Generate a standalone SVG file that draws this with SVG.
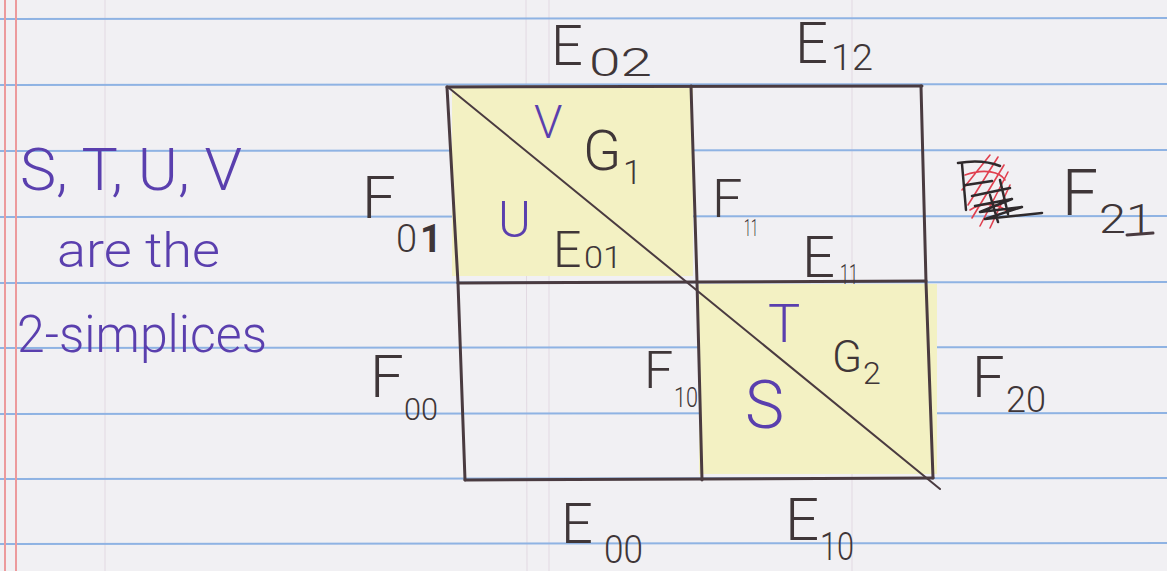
<svg xmlns="http://www.w3.org/2000/svg" width="1167" height="571" viewBox="0 0 1167 571">
<style>
.rule{stroke:#8fb3e3;stroke-width:2}
.margin{stroke:#ec9a9c;stroke-width:2}
.faint{stroke:#e2d9e2;stroke-width:1}
.hl{fill:#f3f1c3}
.pen{fill:none;stroke:#4a3b40;stroke-width:3;stroke-linecap:round;stroke-linejoin:round}
.diag{fill:none;stroke:#4a3b40;stroke-width:2;stroke-linecap:round}
.lbl{font-family:Roboto,"Open Sans","Liberation Sans",sans-serif;font-weight:300;fill:#3f3638}
.pur{font-family:Roboto,"Open Sans","Liberation Sans",sans-serif;font-weight:300;fill:#5a3fae}
.scr{fill:none;stroke:#2f2a2c;stroke-width:2.5;stroke-linecap:round;stroke-linejoin:round}
.scr-red{fill:none;stroke:#e0404f;stroke-width:1.6;stroke-linecap:round;stroke-linejoin:round}
</style>
<rect x="0" y="0" width="1167" height="571" fill="#f1f0f3"/>
<g id="paper">
<line class="faint" x1="105" y1="0" x2="105" y2="571"/>
<line class="faint" x1="526" y1="0" x2="527" y2="571"/>
<line class="faint" x1="549" y1="0" x2="549" y2="571"/>
<line class="faint" x1="852" y1="0" x2="852" y2="571"/>
<line class="rule" x1="0" y1="19" x2="1167" y2="18"/>
<line class="rule" x1="0" y1="85" x2="1167" y2="84"/>
<line class="rule" x1="0" y1="151" x2="1167" y2="150"/>
<line class="rule" x1="0" y1="217" x2="1167" y2="216"/>
<line class="rule" x1="0" y1="283" x2="1167" y2="282"/>
<line class="rule" x1="0" y1="348" x2="1167" y2="347"/>
<line class="rule" x1="0" y1="414" x2="1167" y2="413"/>
<line class="rule" x1="0" y1="479" x2="1167" y2="478"/>
<line class="rule" x1="0" y1="544" x2="1167" y2="543"/>
<line class="margin" x1="5" y1="0" x2="5" y2="571"/>
<line class="margin" x1="16" y1="0" x2="16" y2="571"/>
</g>
<g id="highlights">
<rect class="hl" x="452" y="88" width="241" height="188"/>
<rect class="hl" x="699" y="284" width="238" height="190"/>
</g>
<g id="grid">
<polyline class="pen" points="447,87 922,86"/>
<polyline class="pen" points="458,283 697,282 926,281"/>
<polyline class="pen" points="465,480 702,479 933,478"/>
<polyline class="pen" points="447,87 458,283 465,480"/>
<polyline class="pen" points="691,86 697,282 702,480"/>
<polyline class="pen" points="921,86 926,282 933,478"/>
</g>
<g id="connectors">
<line class="diag" x1="449" y1="88" x2="940" y2="489"/>
</g>
<g id="note">
<text class="pur" x="20" y="190" font-size="60" textLength="222" lengthAdjust="spacingAndGlyphs">S, T, U, V</text>
<text class="pur" x="57" y="267" font-size="48" textLength="163" lengthAdjust="spacingAndGlyphs">are the</text>
<text class="pur" x="17" y="352" font-size="52" textLength="250" lengthAdjust="spacingAndGlyphs">2-simplices</text>
</g>
<g id="simplex-V"><text class="pur" x="534" y="138" font-size="46">V</text></g>
<g id="simplex-U"><text class="pur" x="498" y="237" font-size="50">U</text></g>
<g id="simplex-T"><text class="pur" x="768" y="342" font-size="54">T</text></g>
<g id="simplex-S"><text class="pur" x="745" y="428" font-size="66">S</text></g>
<g id="label-E02"><text class="lbl" x="551" y="65" font-size="56">E</text><text class="lbl" x="589" y="76" font-size="38" textLength="63" lengthAdjust="spacingAndGlyphs">02</text></g>
<g id="label-E12"><text class="lbl" x="795" y="63" font-size="58">E</text><text class="lbl" x="831" y="70" font-size="36" textLength="42" lengthAdjust="spacingAndGlyphs">12</text></g>
<g id="label-G1"><text class="lbl" x="583" y="170" font-size="56">G</text><text class="lbl" x="623" y="184" font-size="34">1</text></g>
<g id="label-F01"><text class="lbl" x="362" y="218" font-size="60">F</text><text class="lbl" x="396" y="252" font-size="38">0<tspan font-weight="700" dx="3">1</tspan></text></g>
<g id="label-E01"><text class="lbl" x="553" y="267" font-size="50">E</text><text class="lbl" x="584" y="268" font-size="32" textLength="38" lengthAdjust="spacingAndGlyphs">01</text></g>
<g id="label-F11"><text class="lbl" x="712" y="217" font-size="54">F</text><text class="lbl" x="744" y="236" font-size="24" textLength="14" lengthAdjust="spacingAndGlyphs">11</text></g>
<g id="label-E11"><text class="lbl" x="802" y="277" font-size="58">E</text><text class="lbl" x="840" y="284" font-size="28" textLength="18" lengthAdjust="spacingAndGlyphs">11</text></g>
<g id="label-G2"><text class="lbl" x="832" y="372" font-size="44">G</text><text class="lbl" x="863" y="384" font-size="32">2</text></g>
<g id="label-F00"><text class="lbl" x="370" y="397" font-size="60">F</text><text class="lbl" x="404" y="420" font-size="32" textLength="34" lengthAdjust="spacingAndGlyphs">00</text></g>
<g id="label-F10"><text class="lbl" x="644" y="388" font-size="52">F</text><text class="lbl" x="674" y="407" font-size="28" textLength="24" lengthAdjust="spacingAndGlyphs">10</text></g>
<g id="label-F20"><text class="lbl" x="972" y="397" font-size="58">F</text><text class="lbl" x="1006" y="412" font-size="36" textLength="40" lengthAdjust="spacingAndGlyphs">20</text></g>
<g id="label-E00"><text class="lbl" x="561" y="543" font-size="56">E</text><text class="lbl" x="604" y="563" font-size="38" textLength="39" lengthAdjust="spacingAndGlyphs">00</text></g>
<g id="label-E10"><text class="lbl" x="785" y="540" font-size="60">E</text><text class="lbl" x="820" y="560" font-size="38" textLength="34" lengthAdjust="spacingAndGlyphs">10</text></g>
<g id="label-F21">
<path class="scr-red" d="M962,190 L990,155 M968,205 L998,157 M972,218 L1004,165 M980,226 L1008,172 M990,228 L1010,185 M965,175 C985,168 1000,172 1005,180 M970,210 C985,200 1000,205 1008,212"/>
<path class="scr" d="M958,163 C975,160 990,162 1000,166 M962,164 L966,210 M966,185 L992,181 M972,196 L1010,188 M975,206 L1012,199 L980,212 L1022,207 L985,219 L1042,213 M1000,180 L1008,214 M990,195 L998,222"/>
<text class="lbl" x="1062" y="215" font-size="64" font-weight="400">F</text><text class="lbl" x="1099" y="233" font-size="40" font-weight="400" textLength="54" lengthAdjust="spacingAndGlyphs">21</text>
<line class="pen" x1="1127" y1="235" x2="1153" y2="233" stroke-width="2.5"/>
</g>
</svg>
